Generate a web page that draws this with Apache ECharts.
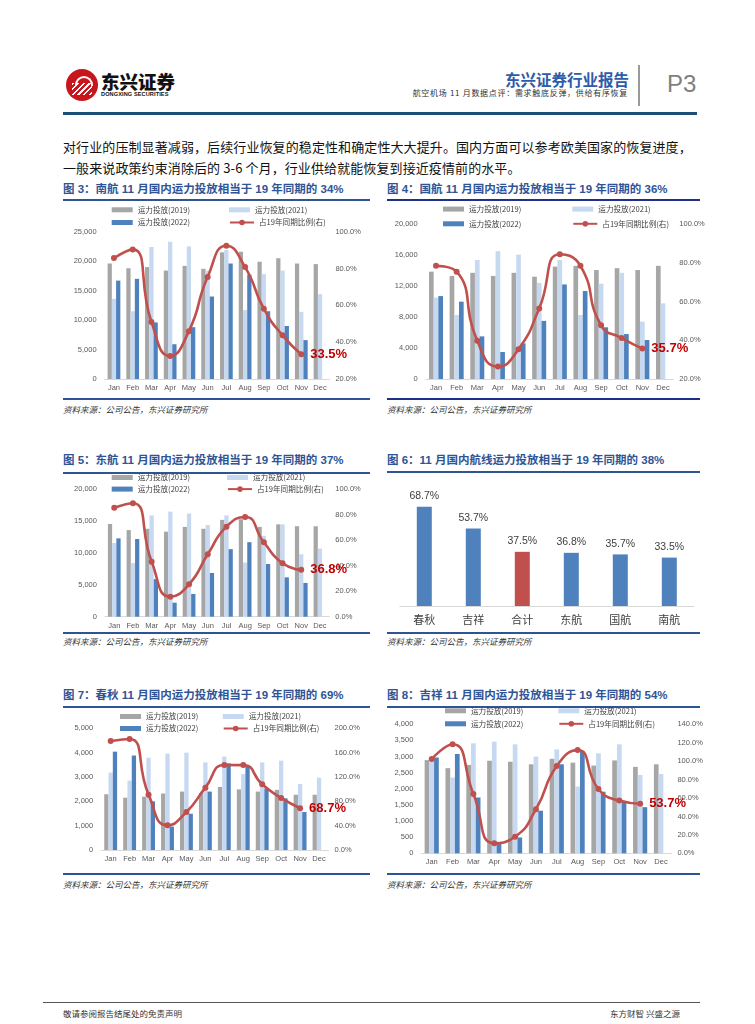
<!DOCTYPE html>
<html><head><meta charset="utf-8">
<script src="https://cdn.jsdelivr.net/npm/echarts@6/dist/echarts.min.js"></script>
<style>
html,body{margin:0;padding:0;background:#fff;}
body{width:755px;height:1024px;position:relative;overflow:hidden;font-family:"Liberation Sans","Noto Sans CJK SC",sans-serif;}
.abs{position:absolute;white-space:nowrap;}
.ttl{font-size:11.5px;font-weight:bold;color:#2F5496;line-height:14px;}
.src{font-size:8.5px;font-style:italic;color:#333;line-height:10px;font-family:"Noto Sans CJK SC",sans-serif;}
.hl{position:absolute;height:1.5px;background:#2F5496;}
.body{font-size:13px;color:#111;line-height:16px;font-family:"Noto Sans CJK SC",sans-serif;}
#chart{position:absolute;left:0;top:0;width:755px;height:1024px;}
</style></head>
<body>
<!-- header -->
<div class="abs" style="left:66px;top:69px;width:32px;height:32px;border-radius:50%;background:#C8161D;overflow:hidden;">
  <div style="position:absolute;left:6px;top:14px;width:20px;height:12px;background:repeating-linear-gradient(135deg,#fff 0 1.5px,transparent 1.5px 4px);"></div>
  <div style="position:absolute;left:9px;top:7px;width:14px;height:8px;border:2px solid #fff;border-bottom:none;border-radius:9px 9px 0 0;"></div>
</div>
<div class="abs" style="left:101px;top:70px;font-size:18.5px;font-weight:900;color:#111;letter-spacing:0px;font-family:'Noto Sans CJK SC';line-height:22px;">东兴证券</div>
<div class="abs" style="left:101px;top:91px;font-size:5.6px;font-weight:bold;color:#111;line-height:7px;letter-spacing:0.1px;">DONGXING SECURITIES</div>
<div class="abs" style="right:126px;top:70px;font-size:15.5px;font-weight:bold;color:#2E5CA8;font-family:'Noto Sans CJK SC';line-height:18px;">东兴证券行业报告</div>
<div class="abs" style="right:127px;top:88px;font-size:8px;letter-spacing:0.7px;color:#333;font-family:'Noto Sans CJK SC';line-height:9px;">航空机场 11 月数据点评：需求触底反弹，供给有序恢复</div>
<div class="abs" style="left:638px;top:65px;width:1.5px;height:41px;background:#9a9a9a;"></div>
<div class="abs" style="left:667px;top:71px;font-size:24px;color:#7f7f7f;line-height:26px;">P3</div>
<div class="abs" style="left:63px;top:112px;width:634px;height:3px;background:#1F4E79;"></div>

<div class="abs body" style="left:63px;top:139px;letter-spacing:0.1px;">对行业的压制显著减弱，后续行业恢复的稳定性和确定性大大提升。国内方面可以参考欧美国家的恢复进度，</div>
<div class="abs body" style="left:63px;top:160px;letter-spacing:0.1px;">一般来说政策约束消除后的 3-6 个月，行业供给就能恢复到接近疫情前的水平。</div>

<!-- section titles -->
<div class="abs ttl" style="left:63px;top:182px;">图 3：南航 11 月国内运力投放相当于 19 年同期的 34%</div>
<div class="abs ttl" style="left:387px;top:182px;">图 4：国航 11 月国内运力投放相当于 19 年同期的 36%</div>
<div class="hl" style="left:63px;top:199px;width:307px;"></div>
<div class="hl" style="left:387px;top:199px;width:313px;background:#1F2F8A;"></div>
<div class="hl" style="left:63px;top:398px;width:307px;"></div>
<div class="hl" style="left:387px;top:398px;width:313px;background:#1F2F8A;"></div>
<div class="abs src" style="left:63px;top:404px;">资料来源：公司公告，东兴证券研究所</div>
<div class="abs src" style="left:387px;top:404px;">资料来源：公司公告，东兴证券研究所</div>

<div class="abs ttl" style="left:63px;top:453px;">图 5：东航 11 月国内运力投放相当于 19 年同期的 37%</div>
<div class="abs ttl" style="left:387px;top:453px;">图 6：11 月国内航线运力投放相当于 19 年同期的 38%</div>
<div class="hl" style="left:63px;top:472px;width:307px;"></div>
<div class="hl" style="left:387px;top:471px;width:313px;"></div>
<div class="hl" style="left:63px;top:632px;width:307px;"></div>
<div class="hl" style="left:387px;top:632px;width:313px;"></div>
<div class="abs src" style="left:63px;top:636px;">资料来源：公司公告，东兴证券研究所</div>
<div class="abs src" style="left:387px;top:636px;">资料来源：公司公告，东兴证券研究所</div>

<div class="abs ttl" style="left:63px;top:688px;">图 7：春秋 11 月国内运力投放相当于 19 年同期的 69%</div>
<div class="abs ttl" style="left:387px;top:688px;">图 8：吉祥 11 月国内运力投放相当于 19 年同期的 54%</div>
<div class="hl" style="left:63px;top:706px;width:307px;"></div>
<div class="hl" style="left:387px;top:706px;width:313px;"></div>
<div class="hl" style="left:63px;top:873px;width:307px;"></div>
<div class="hl" style="left:387px;top:873px;width:313px;"></div>
<div class="abs src" style="left:63px;top:879px;">资料来源：公司公告，东兴证券研究所</div>
<div class="abs src" style="left:387px;top:879px;">资料来源：公司公告，东兴证券研究所</div>

<!-- footer -->
<div class="abs" style="left:43px;top:1002px;width:657px;height:1px;background:#555;"></div>
<div class="abs src" style="left:63px;top:1008px;font-style:normal;font-size:8.5px;">敬请参阅报告结尾处的免责声明</div>
<div class="abs src" style="left:610px;top:1008px;font-style:normal;font-size:8.5px;">东方财智 兴盛之源</div>

<div id="chart"></div>
<script>
// ---------- data ----------
const months = ['Jan','Feb','Mar','Apr','May','Jun','Jul','Aug','Sep','Oct','Nov','Dec'];
const seriesNames = ['运力投放(2019)','运力投放(2021)','运力投放(2022)','占19年同期比例(右)'];

// 南航
const cs2019 = [19600,18800,19000,18400,19200,18700,21500,21600,19900,20500,19600,19500];
const cs2021 = [13600,11500,22400,23300,22500,18400,21900,11700,17800,18400,11400,14400];
const cs2022 = [16700,17000,9600,5900,8800,14000,19600,17700,11500,9000,6600];
const csRatio = [85.7,90.4,51.0,32.5,46.0,75.4,92.4,80.8,58.2,43.7,33.5];
// 国航
const gh2019 = [13850,13300,13700,13300,13700,13200,14500,14600,14060,14300,14060,14600];
const gh2021 = [10500,8260,15350,16500,16040,12400,15350,8260,12300,13700,7400,9760];
const gh2022 = [10700,9980,5500,3480,4600,7500,12200,11350,6670,5800,5030];
const ghRatio = [78.4,75.4,39.7,26.4,35.4,56.4,84.4,78.4,47.7,41.1,35.7];
// 东航
const dh2019 = [14550,13600,13800,13350,14100,13800,15200,15300,14100,14500,14200,14200];
const dh2021 = [11570,8430,15900,16500,16200,14400,15900,8500,12700,14500,9800,10700];
const dh2022 = [12300,12200,5900,2200,3560,6860,10600,11700,8270,6180,5300];
const dhRatio = [85.6,89.0,43.2,15.7,25.4,49.0,70.7,78.3,58.4,41.9,36.8];
// 春秋
const cq2019 = [2290,2150,2190,2320,2400,2340,2590,2490,2400,2470,2270,2270];
const cq2021 = [3180,2850,3790,3960,4000,3600,3840,3120,3600,3670,2710,2970];
const cq2022 = [4040,3880,2000,960,1490,2400,3560,3490,2530,2120,1560];
const cqRatio = [179.0,182.5,91.0,40.5,62.5,102.5,139.7,139.5,108.0,85.5,68.7];
// 吉祥
const jx2019 = [2890,2640,2740,2870,2840,2760,2930,2810,2720,2880,2680,2760];
const jx2021 = [2850,2350,3410,3460,3380,3000,3220,2070,3100,3380,2430,2460];
const jx2022 = [2970,3080,1730,310,490,1320,2760,3150,1910,1600,1430];
const jxRatio = [102.4,118.3,64.4,10.9,18.0,47.8,94.8,112.0,69.8,57.2,53.7];
// 图6
const airlines = ['春秋','吉祥','合计','东航','国航','南航'];
const novShare = [68.7,53.7,37.5,36.8,35.7,33.5];

// ---------- styling ----------
const C19='#A6A6A6', C21='#C6D9F1', C22='#4F81BD', CR='#C0504D', CLBL='#C00000';
const axisFont = {fontSize:7.5,color:'#595959',fontFamily:'Liberation Sans'};

const panels = [
  {d19:cs2019,d21:cs2021,d22:cs2022,r:csRatio,grid:{left:104.6,top:231.7,width:224.8,height:147.3},
   L:{max:25000,interval:5000},R:{min:20,max:100,interval:20},
   leg:{x1:111.7,x2:229,y1:210,y2:222.7}},
  {d19:gh2019,d21:gh2021,d22:gh2022,r:ghRatio,grid:{left:425.7,top:224,width:247.6,height:155},
   L:{max:20000,interval:4000},R:{min:20,max:100,interval:20},
   leg:{x1:443,x2:572.3,y1:209.3,y2:224}},
  {d19:dh2019,d21:dh2021,d22:dh2022,r:dhRatio,grid:{left:104.9,top:489.3,width:224.4,height:127.4},
   L:{max:20000,interval:5000},R:{min:0,max:100,interval:20},
   leg:{x1:111.7,x2:227,y1:477.7,y2:489.3}},
  {d19:cq2019,d21:cq2021,d22:cq2022,r:cqRatio,grid:{left:101.2,top:728.3,width:227.3,height:121.7},
   L:{max:5000,interval:1000},R:{min:0,max:200,interval:40},
   leg:{x1:120,x2:222.7,y1:716.7,y2:728.7}},
  {d19:jx2019,d21:jx2021,d22:jx2022,r:jxRatio,grid:{left:421.3,top:724.3,width:250.1,height:129},
   L:{max:4000,interval:500},R:{min:0,max:140,interval:20},
   leg:{x1:445,x2:558.3,y1:711,y2:724}}
];

const grids=[], xAxes=[], yAxes=[], series=[], legends=[];
panels.forEach((p,i)=>{
  grids.push(Object.assign({containLabel:false},p.grid));
  xAxes.push({type:'category',gridIndex:i,data:months,
    axisLine:{lineStyle:{color:'#D9D9D9',width:1}},axisTick:{show:false},
    axisLabel:Object.assign({margin:5,interval:0},axisFont)});
  yAxes.push({type:'value',gridIndex:i,min:0,max:p.L.max,interval:p.L.interval,position:'left',
    splitLine:{show:false},axisLine:{show:false},axisTick:{show:false},
    axisLabel:Object.assign({margin:8,formatter:v=>v.toLocaleString('en-US')},axisFont)});
  yAxes.push({type:'value',gridIndex:i,min:p.R.min,max:p.R.max,interval:p.R.interval,position:'right',
    splitLine:{show:false},axisLine:{show:false},axisTick:{show:false},
    axisLabel:Object.assign({margin:6,formatter:v=>v.toFixed(1)+'%'},axisFont)});
  const bar=(name,data,color)=>({name,type:'bar',xAxisIndex:i,yAxisIndex:2*i,data,
    barGap:'0%',barCategoryGap:'32%',itemStyle:{color},z:2,animation:false});
  series.push(bar(seriesNames[0],p.d19,C19));
  series.push(bar(seriesNames[1],p.d21,C21));
  series.push(bar(seriesNames[2],p.d22,C22));
  const last=p.r.length-1;
  series.push({name:seriesNames[3],type:'line',xAxisIndex:i,yAxisIndex:2*i+1,smooth:0.55,
    symbol:'circle',symbolSize:6,lineStyle:{color:CR,width:2.6},itemStyle:{color:CR},z:5,animation:false,
    data:p.r.map((v,k)=>k===last?{value:v,label:{show:true,position:'right',distance:6,
      formatter:v.toFixed(1)+'%',color:CLBL,fontSize:13,fontWeight:'bold',fontFamily:'Liberation Sans'}}:v)});
  const lg=(name,x,y,isLine)=>({data:[name],left:x,top:y-(isLine?4:4),padding:0,itemGap:0,
    itemWidth:isLine?24:21,itemHeight:isLine?7:5,selectedMode:false,
    icon:isLine?undefined:'rect',
    textStyle:{fontSize:7.6,color:'#404040',padding:[0,0,0,0],fontFamily:'Noto Sans CJK SC'}});
  legends.push(lg(seriesNames[0],p.leg.x1,p.leg.y1,false));
  legends.push(lg(seriesNames[1],p.leg.x2,p.leg.y1,false));
  legends.push(lg(seriesNames[2],p.leg.x1,p.leg.y2,false));
  legends.push(lg(seriesNames[3],p.leg.x2,p.leg.y2,true));
});
// 图6
grids.push({left:399.8,top:490.4,width:294,height:115.6});
xAxes.push({type:'category',gridIndex:5,data:airlines,
  axisLine:{lineStyle:{color:'#D9D9D9'}},axisTick:{show:false},
  axisLabel:{margin:8,fontSize:11,color:'#404040',fontFamily:'Noto Sans CJK SC'}});
yAxes.push({type:'value',gridIndex:5,min:0,max:80,show:false,splitLine:{show:false}});
series.push({name:'11月占比',type:'bar',xAxisIndex:5,yAxisIndex:yAxes.length-1,barWidth:15,animation:false,
  data:novShare.map((v,k)=>({value:v,itemStyle:{color:airlines[k]==='合计'?CR:C22}})),
  label:{show:true,position:'top',distance:5,formatter:o=>o.value.toFixed(1)+'%',
    fontSize:10.5,color:'#404040',fontFamily:'Liberation Sans'}});

const chart=echarts.init(document.getElementById('chart'),null,{renderer:'canvas'});
chart.setOption({animation:false,backgroundColor:'transparent',grid:grids,xAxis:xAxes,yAxis:yAxes,legend:legends,series});
</script>
</body></html>
